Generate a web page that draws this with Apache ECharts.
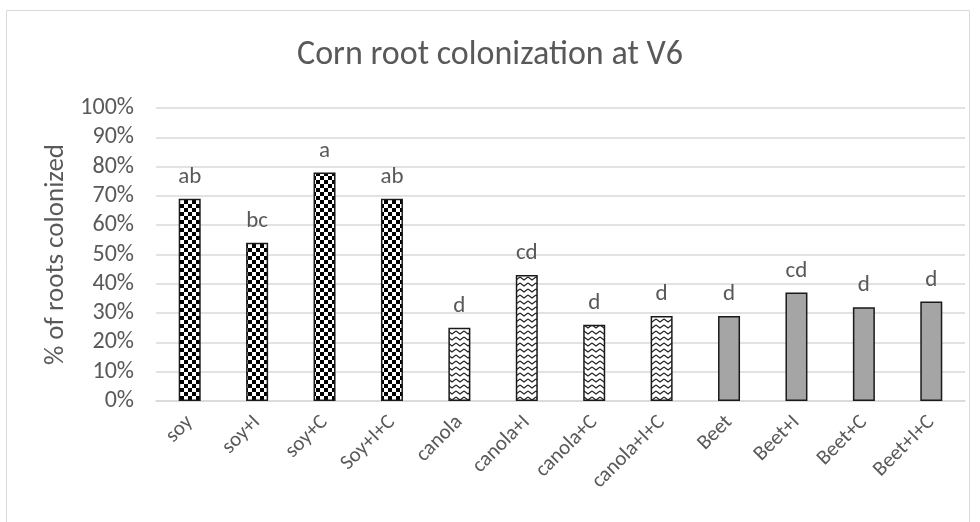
<!DOCTYPE html>
<html>
<head>
<meta charset="utf-8">
<script src="https://cdn.jsdelivr.net/npm/echarts@6/dist/echarts.min.js"></script>
<style>
html, body {margin: 0; padding: 0; background: #fff;}
#main {width: 980px; height: 522px;}
</style>
</head>
<body>
<div id="main"></div>
<script>
var categories = ['soy', 'soy+I', 'soy+C', 'Soy+I+C', 'canola', 'canola+I', 'canola+C', 'canola+I+C', 'Beet', 'Beet+I', 'Beet+C', 'Beet+I+C'];
var values = [69, 54, 78, 69, 25, 43, 26, 29, 29, 37, 32, 34];
var letters = ['ab', 'bc', 'a', 'ab', 'd', 'cd', 'd', 'd', 'd', 'cd', 'd', 'd'];
var groups = ['check', 'check', 'check', 'check', 'wave', 'wave', 'wave', 'wave', 'gray', 'gray', 'gray', 'gray'];
var yTicks = [0, 10, 20, 30, 40, 50, 60, 70, 80, 90, 100];

// 棋盘格
function checkerTile() {
    var c = document.createElement('canvas');
    c.width = 8; c.height = 8;
    var ctx = c.getContext('2d');
    ctx.fillStyle = '#fff';
    ctx.fillRect(0, 0, 8, 8);
    ctx.fillStyle = '#000';
    ctx.fillRect(0, 0, 4, 4);
    ctx.fillRect(4, 4, 4, 4);
    return c;
}
// 波纹
function waveTile() {
    var c = document.createElement('canvas');
    c.width = 8; c.height = 6;
    var ctx = c.getContext('2d');
    ctx.fillStyle = '#fff';
    ctx.fillRect(0, 0, 8, 6);
    ctx.strokeStyle = '#222';
    ctx.lineWidth = 1.2;
    ctx.beginPath();
    ctx.moveTo(0, 1);
    ctx.lineTo(4, 4);
    ctx.lineTo(8, 1);
    ctx.stroke();
    return c;
}

var fills = {
    check: {image: checkerTile(), repeat: 'repeat'},
    wave: {image: waveTile(), repeat: 'repeat'},
    gray: '#a5a5a5'
};

var chart = echarts.init(document.getElementById('main'));
var textColor = '#595959';
var font = 'Carlito, "Open Sans", "Liberation Sans", sans-serif';

var barData = values.map(function (v, i) {
    return {
        value: v,
        itemStyle: {color: fills[groups[i]], borderColor: '#1a1a1a', borderWidth: 1.5},
        label: {formatter: letters[i]}
    };
});

option = {
    backgroundColor: '#ffffff',
    animation: false,
    textStyle: {fontFamily: font},
    title: {
        text: 'Corn root colonization at V6',
        left: 'center',
        top: 33,
        textStyle: {color: textColor, fontSize: 34, fontWeight: 'normal', fontFamily: font}
    },
    graphic: [{
        type: 'rect',
        shape: {x: 6.5, y: 10.5, width: 963, height: 530},
        style: {fill: 'none', stroke: '#d9d9d9', lineWidth: 1}
    }],
    grid: {left: 156, right: 15, top: 108, bottom: 121},
    xAxis: {
        type: 'category',
        data: categories,
        axisLine: {lineStyle: {color: '#d9d9d9', width: 1.5}},
        axisTick: {show: false},
        axisLabel: {rotate: 45, color: textColor, fontSize: 21, margin: 18, interval: 0, fontFamily: font}
    },
    yAxis: {
        type: 'value',
        min: 0,
        max: 100,
        interval: 10,
        name: '% of roots colonized',
        nameLocation: 'middle',
        nameGap: 82,
        nameTextStyle: {color: textColor, fontSize: 27, fontFamily: font},
        axisLine: {show: false},
        axisTick: {show: false},
        splitLine: {lineStyle: {color: '#d9d9d9', width: 1.5}},
        axisLabel: {
            color: textColor, fontSize: 24, margin: 22, fontFamily: font,
            customValues: yTicks,
            formatter: function (v) { return v + '%'; }
        }
    },
    series: [{
        type: 'bar',
        data: barData,
        barWidth: 22,
        label: {show: true, position: 'top', distance: 10, color: textColor, fontSize: 23, fontFamily: font}
    }]
};
chart.setOption(option);
</script>
</body>
</html>
